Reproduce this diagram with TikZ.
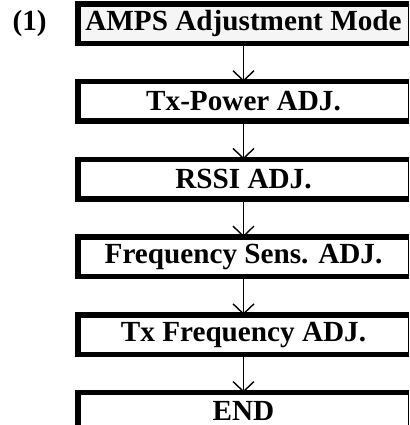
\documentclass[tikz,border=0pt]{standalone}
\usepackage{fontspec}
\setmainfont{Liberation Serif}
\usetikzlibrary{arrows.meta, positioning}
\tikzset{
  stage/.style = {draw=black, line width=0.5pt, fill=white, minimum width=165pt,
                  minimum height=19.25pt, inner sep=0pt, align=center,
                  font=\fontsize{14.6}{16}\selectfont\bfseries},
  first/.style = {stage, fill=black!4},
  last/.style  = {stage, minimum height=18pt},
  band/.style  = {line width=2.75pt, draw=black},
  fl/.style    = {-{Straight Barb[length=5pt, width=10.5pt, line width=0.7pt]}, line width=0.7pt},
  numlab/.style= {font=\fontsize{14.6}{16}\selectfont\bfseries, inner sep=0pt},
}
\begin{document}
\begin{tikzpicture}[node distance=19.1pt]
\useasboundingbox (0,0) rectangle (205pt,-212.5pt);
\node[first] (amps) at (121.75pt,-11.875pt) {AMPS Adjustment Mode};
\node[stage, below=of amps] (txp)  {Tx-Power ADJ.};
\node[stage, below=of txp]  (rssi) {RSSI ADJ.};
\node[stage, below=of rssi] (fsens){Frequency Sens. ADJ.};
\node[stage, below=of fsens](txf)  {Tx Frequency ADJ.};
\node[last,  below=of txf]  (end)  {END};
\node[numlab, left=15.5pt of amps] (num) {(1)};
% arrows
\draw[fl] (amps) -- (txp);
\draw[fl] (txp)  -- (rssi);
\draw[fl] (rssi) -- (fsens);
\draw[fl] (fsens)-- (txf);
\draw[fl] (txf)  -- (end);
% heavy frame edges
\foreach \n in {amps,txp,rssi,fsens,txf}
  \draw[band] (\n.south east) -- (\n.south west) -- (\n.north west) -- (\n.north east);
\draw[band] (end.south west) -- (end.north west) -- (end.north east);
\end{tikzpicture}
\end{document}
